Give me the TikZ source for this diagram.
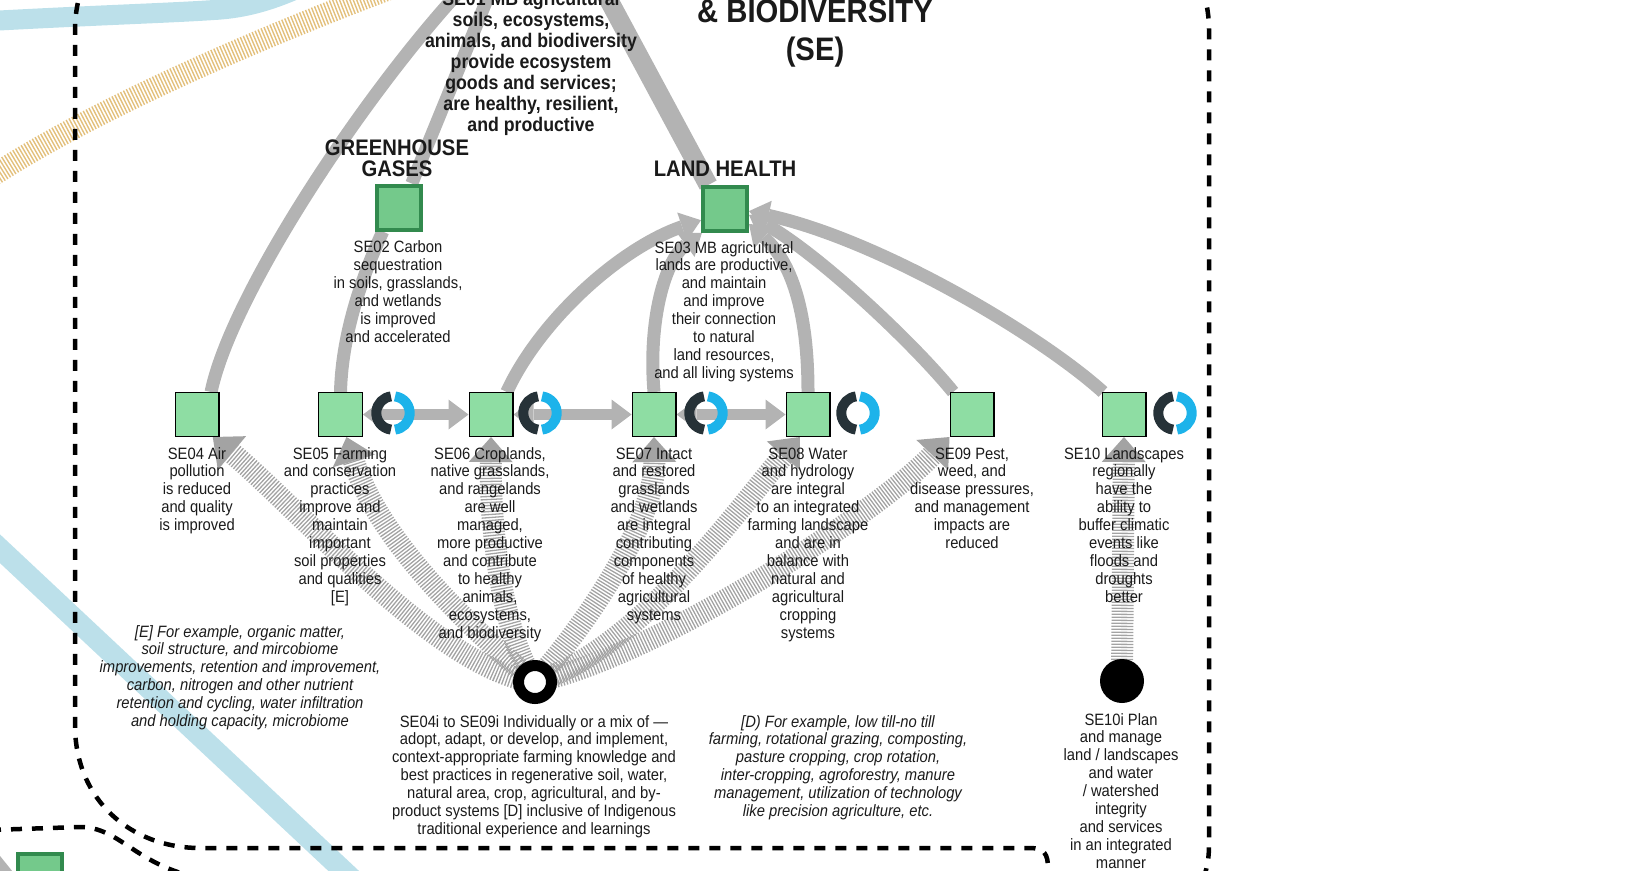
\documentclass[tikz,border=0pt]{standalone}
\usepackage{fontspec}
\setmainfont{Liberation Sans}[FakeStretch=0.9]
\usetikzlibrary{arrows.meta,calc}

\definecolor{sqgreen}{HTML}{8EDDA3}
\definecolor{midgreen}{HTML}{74C98B}
\definecolor{darkgreen}{HTML}{328A4E}
\definecolor{linkgray}{HTML}{B3B3B3}
\definecolor{hatchgray}{HTML}{A3A3A3}
\definecolor{ringdark}{HTML}{263238}
\definecolor{ringblue}{HTML}{1DB3EA}
\definecolor{riverblue}{HTML}{BCE0EA}
\definecolor{trailtan}{HTML}{E3C07C}
\definecolor{ink}{HTML}{1A1A1A}

\pgfdeclarelayer{bands}
\pgfdeclarelayer{links}
\pgfsetlayers{bands,links,main}

\tikzset{
  sq/.style={draw=black, line width=1.3pt, fill=sqgreen, minimum size=43.7pt, inner sep=0pt},
  keysq/.style={draw=darkgreen, line width=4pt, fill=midgreen, minimum size=44pt, inner sep=0pt},
  % multi-line texts are placed by the baseline of their last line
  txt/.style={align=center, inner sep=0pt, anchor=base, text=ink, font=\fontsize{16.4pt}{17.9pt}\selectfont},
  note/.style={txt, font=\fontsize{16.4pt}{17.8pt}\selectfont\itshape},
  head/.style={txt, font=\fontsize{22.5pt}{21pt}\selectfont\bfseries},
  goal/.style={txt, font=\fontsize{19.7pt}{21.1pt}\selectfont\bfseries},
  bigtitle/.style={txt, font=\fontsize{32.5pt}{38pt}\selectfont\bfseries},
  link/.style={draw=linkgray, line width=13pt},
  linktip/.style={link, -{Triangle[width=30pt,length=20pt,line width=0pt]}},
  twoway/.style={draw=linkgray, line width=11pt,
    {Triangle[width=30pt,length=20pt,line width=0pt]}-{Triangle[width=30pt,length=20pt,line width=0pt]}},
  hatch/.style={draw=hatchgray, line width=22pt, dash pattern=on 1.3pt off 1.7pt,
    -{Triangle[width=44pt,length=25pt,line width=0pt]}},
  hubring/.style={circle, draw=black, line width=11pt, fill=white, minimum size=33pt, inner sep=0pt},
  hubdot/.style={circle, fill=black, minimum size=44pt, inner sep=0pt},
  frame/.style={draw=black, line width=4.5pt, dash pattern=on 11pt off 10pt},
  river/.style={draw=riverblue, line width=20pt},
  trail/.style={draw=trailtan, line width=22pt, dash pattern=on 1.4pt off 1.8pt},
  loopicon/.pic={
    \draw[draw=ringdark, line width=10pt] (97:16.7) arc[start angle=97, end angle=263, radius=16.7];
    \draw[draw=ringblue, line width=10pt] (-83:16.7) arc[start angle=-83, end angle=83, radius=16.7];
  },
}

\begin{document}
\begin{tikzpicture}[x=1pt,y=-1pt]
\useasboundingbox (0,0) rectangle (1648,870);

% ---------- background bands ----------
\begin{pgfonlayer}{bands}
  \draw[river] (-10,21) .. controls (100,15) and (170,13) .. (214,10)
               .. controls (250,8) and (280,-2) .. (320,-22);
  \draw[river, line width=21pt] (-20,530) -- (380,905);
  \draw[trail] (-20,184) .. controls (60,130) and (200,60) .. (400,-15);
\end{pgfonlayer}

% ---------- dashed outlines ----------
\draw[frame] (1048,905) -- (1048,868) .. controls (1048,854) and (1044,848) .. (1030,848)
  -- (200,848) .. controls (131,848) and (75,800) .. (75,725)
  -- (75,30) .. controls (75,-40) and (130,-95) .. (200,-95)
  -- (1085,-95) .. controls (1154,-95) and (1209,-40) .. (1209,30)
  -- (1209,845) .. controls (1209,880) and (1195,900) .. (1170,905);
\draw[frame] (-10,830) -- (80,827) .. controls (120,827) and (135,865) .. (200,878);

% ---------- outcome boxes ----------
\node[keysq] (se02) at (399,207.5) {};
\node[keysq] (se03) at (725,209) {};
\node[sq] (se04) at (197,414.5) {};
\node[sq] (se05) at (340.5,414.5) {};
\node[sq] (se06) at (491,414.5) {};
\node[sq] (se07) at (654,414.5) {};
\node[sq] (se08) at (808,414.5) {};
\node[sq] (se09) at (972,414.5) {};
\node[sq] (se10) at (1124,414.5) {};
\node[keysq] (nextkey) at (40,876) {};
\fill[linkgray] (-8,846) -- (17,877) -- (-8,908) -- cycle;

% ---------- activity hubs ----------
\node[hubring] (hub) at (535,682) {};
\node[hubdot] (se10i) at (1122,681) {};

% ---------- off-picture targets ----------
\coordinate (toSEa) at (480,-30);
\coordinate (toSEb) at (495,-20);
\coordinate (toSEc) at (598,-20);

% ---------- connectors ----------
\begin{pgfonlayer}{links}
  \draw[link] (se04.58) .. controls (232,290) and (380,70) .. (toSEa);
  \draw[link] (se05.north) .. controls (342,330) and (365,270) .. (se02.236);
  \draw[link] (se02.62) -- (toSEb);
  \draw[link, line width=19pt] (se03.125) -- (toSEc);

  \draw[linktip] (se06.55) .. controls (540,320) and (620,248) .. (se03.205);
  \draw[linktip] (se07.north) .. controls (648,320) and (665,260) .. (se03.226);
  \draw[linktip] (se08.north) .. controls (808,320) and (795,265) .. (se03.328);
  \draw[linktip] (se09.130) .. controls (915,345) and (820,255) .. (se03.346);
  \draw[linktip] (se10.133) .. controls (1040,335) and (880,240) .. (se03.355);

  \draw[twoway] (se05.east) -- (se06.west);
  \draw[twoway] (se06.east) -- (se07.west);
  \draw[twoway] (se07.east) -- (se08.west);

  \draw[hatch] (hub.center) .. controls (440,670) and (300,510) .. (se04.305);
  \draw[hatch] (hub.center) .. controls (466,625) and (377,537) .. (se05.285);
  \draw[hatch] (hub.center) .. controls (505,640) and (490,540) .. (se06.south);
  \draw[hatch] (hub.center) .. controls (590,620) and (655,520) .. (se07.south);
  \draw[hatch] (hub.center) .. controls (640,650) and (745,500) .. (se08.250);
  \draw[hatch] (hub.center) .. controls (660,655) and (880,510) .. (se09.225);
  \draw[hatch] (se10i.center) -- (se10.south);
\end{pgfonlayer}

% ---------- practice cycle icons ----------
\pic (r05) at (393,413) {loopicon};
\pic (r06) at (540,413) {loopicon};
\pic (r07) at (706,413) {loopicon};
\pic (r08) at (858,413) {loopicon};
\pic (r10) at (1175,413) {loopicon};

% ---------- headings ----------
\node[bigtitle] (secttitle) at (815,60) {\& BIODIVERSITY\\(SE)};
\node[goal] (se01txt) at (531,131.6) {SE01 MB agricultural\\soils, ecosystems,\\animals, and biodiversity\\provide ecosystem\\goods and services;\\are healthy, resilient,\\and productive};
\node[head] (ghg) at (397,176) {GREENHOUSE\\GASES};
\node[head] (landhealth) at (725,176) {LAND HEALTH};

% ---------- outcome texts ----------
\node[txt] (se02txt) at (398,342) {SE02 Carbon\\sequestration\\in soils, grasslands,\\and wetlands\\is improved\\and accelerated};
\node[txt] (se03txt) at (724,378.3) {SE03 MB agricultural\\lands are productive,\\and maintain\\and improve\\their connection\\to natural\\land resources,\\and all living systems};
\node[txt] (se04txt) at (197,530.6) {SE04 Air\\pollution\\is reduced\\and quality\\is improved};
\node[txt] (se05txt) at (340,602.2) {SE05 Farming\\and conservation\\practices\\improve and\\maintain\\important\\soil properties\\and qualities\\{[E]}};
\node[txt] (se06txt) at (490,638) {SE06 Croplands,\\native grasslands,\\and rangelands\\are well\\managed,\\more productive\\and contribute\\to healthy\\animals,\\ecosystems,\\and biodiversity};
\node[txt] (se07txt) at (654,620.1) {SE07 Intact\\and restored\\grasslands\\and wetlands\\are integral\\contributing\\components\\of healthy\\agricultural\\systems};
\node[txt] (se08txt) at (808,638) {SE08 Water\\and hydrology\\are integral\\to an integrated\\farming landscape\\and are in\\balance with\\natural and\\agricultural\\cropping\\systems};
\node[txt] (se09txt) at (972,548.5) {SE09 Pest,\\weed, and\\disease pressures,\\and management\\impacts are\\reduced};
\node[txt] (se10txt) at (1124,602.2) {SE10 Landscapes\\regionally\\have the\\ability to\\buffer climatic\\events like\\floods and\\droughts\\better};

% ---------- activity texts and notes ----------
\node[txt] (hubtxt) at (534,834.4) {SE04i to SE09i Individually or a mix of —\\adopt, adapt, or develop, and implement,\\context-appropriate farming knowledge and\\best practices in regenerative soil, water,\\natural area, crop, agricultural, and by-\\product systems [D] inclusive of Indigenous\\traditional experience and learnings};
\node[txt] (se10itxt) at (1121,868.2) {SE10i Plan\\and manage\\land / landscapes\\and water\\/ watershed\\integrity\\and services\\in an integrated\\manner};
\node[note] (enote) at (240,726) {[E] For example, organic matter,\\soil structure, and mircobiome\\improvements, retention and improvement,\\carbon, nitrogen and other nutrient\\retention and cycling, water infiltration\\and holding capacity, microbiome};
\node[note] (dnote) at (838,816) {[D) For example, low till-no till\\farming, rotational grazing, composting,\\pasture cropping, crop rotation,\\inter-cropping, agroforestry, manure\\management, utilization of technology\\like precision agriculture, etc.};
\end{tikzpicture}
\end{document}
